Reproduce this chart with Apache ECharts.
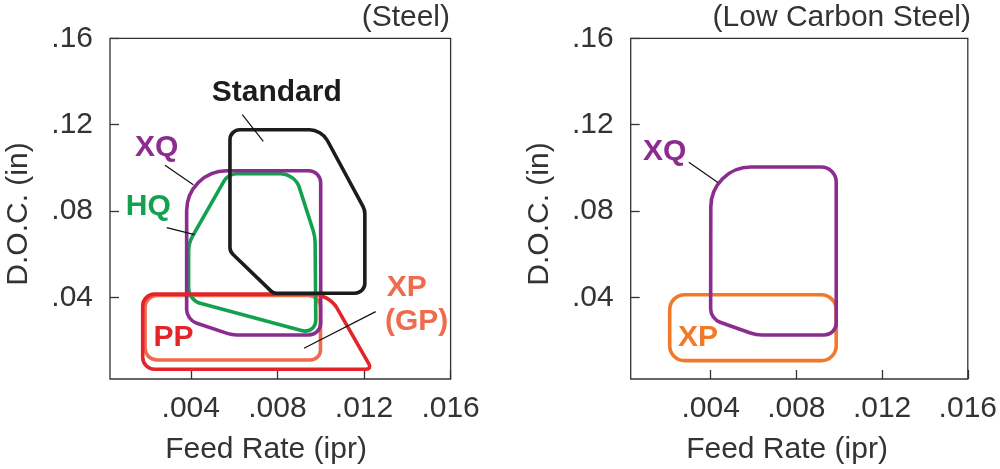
<!DOCTYPE html>
<html>
<head>
<meta charset="utf-8">
<script src="https://cdn.jsdelivr.net/npm/echarts@6/dist/echarts.min.js"></script>
<style>html,body{margin:0;padding:0;background:#fff}#c{width:1000px;height:469px}</style>
</head>
<body>
<div id="c"></div>
<script>
// ---------- data ----------
const xTicks = [0.004, 0.008, 0.012, 0.016];
const yTicks = [0.04, 0.08, 0.12, 0.16];
const panelTitles = ['(Steel)', '(Low Carbon Steel)'];
const xTitle = 'Feed Rate (ipr)';
const yTitle = 'D.O.C. (in)';

// application envelopes (feed rate, depth of cut) - polygon corners
const standardSteel = [[0.00581,0.1177],[0.01004,0.1177],[0.01204,0.0806],[0.01204,0.0420],[0.00781,0.0420],[0.00581,0.0613]];
const xqSteel = [[0.00381,0.0987],[0.0100,0.0987],[0.0100,0.0227],[0.0059,0.0227],[0.00381,0.0297]];
const hqSteel = [[0.00390,0.0652],[0.00573,0.0973],[0.00881,0.0973],[0.00974,0.0683],[0.00978,0.0229],[0.00390,0.0388]];
const ppSteel = [[0.00178,0.0416],[0.01038,0.0416],[0.01237,0.0068],[0.00178,0.0068]];
const xpSteel = [[0.00189,0.0410],[0.00999,0.0410],[0.00999,0.0111],[0.00189,0.0111]];
const xqLowCarbon = [[0.00401,0.1004],[0.00986,0.1004],[0.00986,0.0227],[0.00612,0.0227],[0.00400,0.0301]];
const xpLowCarbon = [[0.00209,0.0413],[0.00986,0.0413],[0.00986,0.0108],[0.00209,0.0108]];

// labels
const steelLabelText = ['Standard','XQ','HQ','PP','XP','(GP)'];
const steelLabelAt = [[0.00797,0.1349],[0.00243,0.1092],[0.00204,0.0819],[0.0032,0.0215],[0.01397,0.0444],[0.01443,0.0289]];
const lowCarbonLabelText = ['XQ','XP'];
const lowCarbonLabelAt = [[0.00186,0.1077],[0.00341,0.0212]];
// leader lines [x1,y1,x2,y2]
const steelLeaders = [[0.00638,0.1247,0.00735,0.1123],[0.00281,0.1012,0.00412,0.0922],[0.00289,0.0724,0.00417,0.0691],[0.01254,0.0335,0.00923,0.0165]];
const lowCarbonLeaders = [[0.00298,0.1026,0.00434,0.0933]];

// ---------- styles ----------
const C = {black:'#1c1c1c', purple:'#8c2c8f', green:'#13a04f', red:'#e3242b', salmon:'#ef6b4e', orange:'#f07a2a', axis:'#333'};
const FONT = '"Liberation Sans", Arial, Helvetica, sans-serif';
const steelLabelColor = [C.black, C.purple, C.green, C.red, C.salmon, C.salmon];
const lowCarbonLabelColor = [C.purple, C.orange];

function roundedPath(pts, radii) {
  const n = pts.length; let d = '';
  for (let i = 0; i < n; i++) {
    const V = pts[i], P = pts[(i - 1 + n) % n], N = pts[(i + 1) % n];
    const dp = Math.hypot(P[0]-V[0], P[1]-V[1]), dn = Math.hypot(N[0]-V[0], N[1]-V[1]);
    const r = Math.min(radii[i], dp/2, dn/2);
    const A = [V[0] + (P[0]-V[0])/dp*r, V[1] + (P[1]-V[1])/dp*r];
    const B = [V[0] + (N[0]-V[0])/dn*r, V[1] + (N[1]-V[1])/dn*r];
    const k = 0.552;
    const c1 = [A[0] + (V[0]-A[0])*k, A[1] + (V[1]-A[1])*k];
    const c2 = [B[0] + (V[0]-B[0])*k, B[1] + (V[1]-B[1])*k];
    d += (i === 0 ? 'M' : 'L') + A[0].toFixed(2) + ' ' + A[1].toFixed(2) +
         ' C' + c1[0].toFixed(2) + ' ' + c1[1].toFixed(2) + ' ' + c2[0].toFixed(2) + ' ' + c2[1].toFixed(2) + ' ' + B[0].toFixed(2) + ' ' + B[1].toFixed(2) + ' ';
  }
  return d + 'Z';
}

function shapeSeries(verts, radii, color, g, z) {
  return {
    type: 'custom', xAxisIndex: g, yAxisIndex: g, data: verts, z: z, silent: true,
    renderItem: function (params, api) {
      if (params.dataIndex !== 0) return null;
      const pts = verts.map(v => api.coord(v));
      return {type: 'path', shape: {pathData: roundedPath(pts, radii)},
              style: {fill: 'none', stroke: color, lineWidth: 3.6, lineJoin: 'round'}};
    }
  };
}
function labelSeries(at, texts, colors, g) {
  return {
    type: 'custom', xAxisIndex: g, yAxisIndex: g, data: at, z: 20, silent: true,
    renderItem: function (params, api) {
      const p = api.coord([api.value(0), api.value(1)]);
      return {type: 'text', style: {x: p[0], y: p[1], text: texts[params.dataIndex], fill: colors[params.dataIndex],
              fontSize: 30, fontWeight: 'bold', fontFamily: FONT, align: 'center', verticalAlign: 'middle'}};
    }
  };
}
function leaderSeries(segs, g) {
  return {
    type: 'custom', xAxisIndex: g, yAxisIndex: g, data: segs, z: 15, silent: true,
    encode: {x: [0, 2], y: [1, 3]},
    renderItem: function (params, api) {
      const a = api.coord([api.value(0), api.value(1)]);
      const b = api.coord([api.value(2), api.value(3)]);
      return {type: 'line', shape: {x1: a[0], y1: a[1], x2: b[0], y2: b[1]}, style: {stroke: '#111', lineWidth: 1.2}};
    }
  };
}

const grids = [
  {left: 110, top: 38.3, width: 340.6, height: 340.7, show: true, borderColor: C.axis, borderWidth: 1.3},
  {left: 630.7, top: 38.3, width: 340.4, height: 340.7, show: true, borderColor: C.axis, borderWidth: 1.3}
];
function xAx(g) {
  return {type: 'value', gridIndex: g, min: 0.00027, max: 0.016,
    axisLine: {show: false}, splitLine: {show: false},
    axisTick: {inside: true, length: 9, customValues: xTicks, lineStyle: {color: C.axis, width: 1.3}},
    axisLabel: {customValues: xTicks, margin: 15, fontSize: 30, fontFamily: FONT, color: '#333',
      formatter: v => v.toFixed(3).replace(/^0/, '')}};
}
function yAx(g) {
  return {type: 'value', gridIndex: g, min: 0.0023, max: 0.16,
    axisLine: {show: false}, splitLine: {show: false},
    axisTick: {inside: true, length: 9, customValues: yTicks, lineStyle: {color: C.axis, width: 1.3}},
    axisLabel: {customValues: yTicks, margin: 17, fontSize: 30, fontFamily: FONT, color: '#333',
      formatter: v => v.toFixed(2).replace(/^0/, '')}};
}
const txt = (text, x, y, align, rot) => ({type: 'text', x: x, y: y, rotation: rot || 0,
  style: {text: text, fontSize: 30, fontFamily: FONT, fill: '#333', align: align, verticalAlign: 'middle'}});

const chart = echarts.init(document.getElementById('c'), null, {renderer: 'canvas'});
chart.setOption({
  animation: false,
  backgroundColor: '#fff',
  grid: grids,
  xAxis: [xAx(0), xAx(1)],
  yAxis: [yAx(0), yAx(1)],
  graphic: [
    txt(panelTitles[0], 450, 18, 'right'),
    txt(panelTitles[1], 971, 18, 'right'),
    txt(xTitle, 266, 450, 'center'),
    txt(xTitle, 787, 450, 'center'),
    txt(yTitle, 19, 214, 'center', Math.PI / 2),
    txt(yTitle, 540, 214, 'center', Math.PI / 2)
  ],
  series: [
    shapeSeries(xpSteel, [12,12,10,12], C.salmon, 0, 2),
    shapeSeries(hqSteel, [8,8,14,6,15,12], C.green, 0, 3),
    shapeSeries(xqSteel, [40,12,12,5,10], C.purple, 0, 4),
    shapeSeries(ppSteel, [12,16,6,12], C.red, 0, 5),
    shapeSeries(standardSteel, [10,12,4,10,3,4], C.black, 0, 6),
    leaderSeries(steelLeaders, 0),
    labelSeries(steelLabelAt, steelLabelText, steelLabelColor, 0),
    shapeSeries(xpLowCarbon, [15,15,15,15], C.orange, 1, 2),
    shapeSeries(xqLowCarbon, [40,15,12,6,10], C.purple, 1, 4),
    leaderSeries(lowCarbonLeaders, 1),
    labelSeries(lowCarbonLabelAt, lowCarbonLabelText, lowCarbonLabelColor, 1)
  ]
});
</script>
</body>
</html>
